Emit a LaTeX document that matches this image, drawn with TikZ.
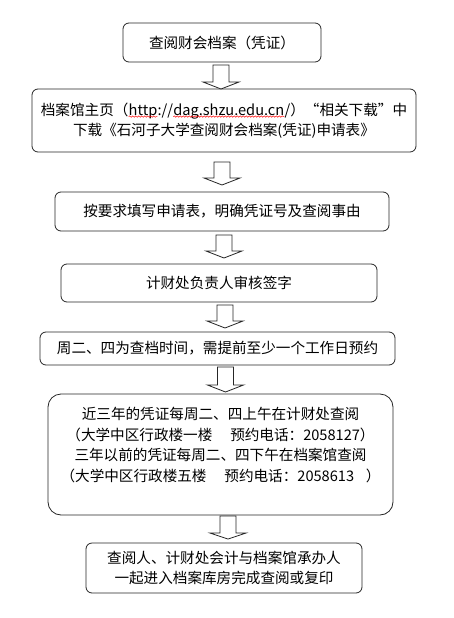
\documentclass[tikz,border=0pt]{standalone}
\usepackage{fontspec}
\setmainfont{Noto Sans CJK SC}
\usetikzlibrary{decorations.pathmorphing}
\tikzset{
  flowbox/.style={draw=black!85, line width=0.8pt, rounded corners=6pt, align=center,
    font=\fontsize{14.6}{20.5}\selectfont, inner sep=0pt},
  barrow/.style={draw=black!85, line width=0.8pt, fill=white, line join=miter},
  wavyline/.style={draw=red, line width=0.5pt, sharp corners, decorate,
    decoration={snake, amplitude=0.7pt, segment length=3pt}},
  plainword/.style={draw=none, fill=none, sharp corners, inner sep=0pt, outer sep=0pt,
    minimum width=0pt, minimum height=0pt, align=left}
}
\newcommand\redwave[1]{\tikz[baseline=(w.base)]{\node[plainword] (w) {#1};
  \draw[wavyline] ([yshift=-1.5pt]w.base west) -- ([yshift=-1.5pt]w.base east);}}
\newcommand\blockarrow[4]{%
  \draw[barrow] (#1-8,#2) -- (#1+8,#2) -- (#1+8,#3) -- (#1+18,#3) -- (#1,#4) -- (#1-18,#3) -- (#1-8,#3) -- cycle;}
\begin{document}
\begin{tikzpicture}[x=1pt,y=-1pt]
\useasboundingbox[fill=white] (0,0) rectangle (454,618);

\node[flowbox, minimum width=198pt, minimum height=39pt] (b1) at (222,42.5) {查阅财会档案（凭证）};
\node[flowbox, minimum width=384pt, minimum height=63pt] (b2) at (224,120.5)
  {档案馆主页（\redwave{http}://\redwave{dag.shzu.edu.cn}/）“相关下载”中\\下载《石河子大学查阅财会档案(凭证)申请表》};
\node[flowbox, minimum width=334pt, minimum height=39pt] (b3) at (222,211.5) {按要求填写申请表，明确凭证号及查阅事由};
\node[flowbox, minimum width=316pt, minimum height=38pt] (b4) at (219,283) {计财处负责人审核签字};
\node[flowbox, minimum width=355pt, minimum height=33pt] (b5) at (217.5,348.5) {周二、四为查档时间，需提前至少一个工作日预约};
\node[flowbox, rounded corners=13pt, minimum width=345pt, minimum height=121pt] (b6) at (220.5,454.5)
  {近三年的凭证每周二、四上午在计财处查阅\\（大学中区行政楼一楼　 预约电话：2058127）\\三年以前的凭证每周二、四下午在档案馆查阅\\（大学中区行政楼五楼　 预约电话：2058613\hspace{0.8em}）\\ \mbox{}};
\node[flowbox, minimum width=276pt, minimum height=50pt] (b7) at (224,568)
  {查阅人、计财处会计与档案馆承办人\\一起进入档案库房完成查阅或复印};

\blockarrow{221}{65}{82}{89}
\blockarrow{222}{162}{178}{185}
\blockarrow{224}{235}{251}{258}
\blockarrow{225}{305}{321}{328}
\blockarrow{225.5}{367}{385}{392}
\blockarrow{228}{516}{533}{539}
\end{tikzpicture}
\end{document}
